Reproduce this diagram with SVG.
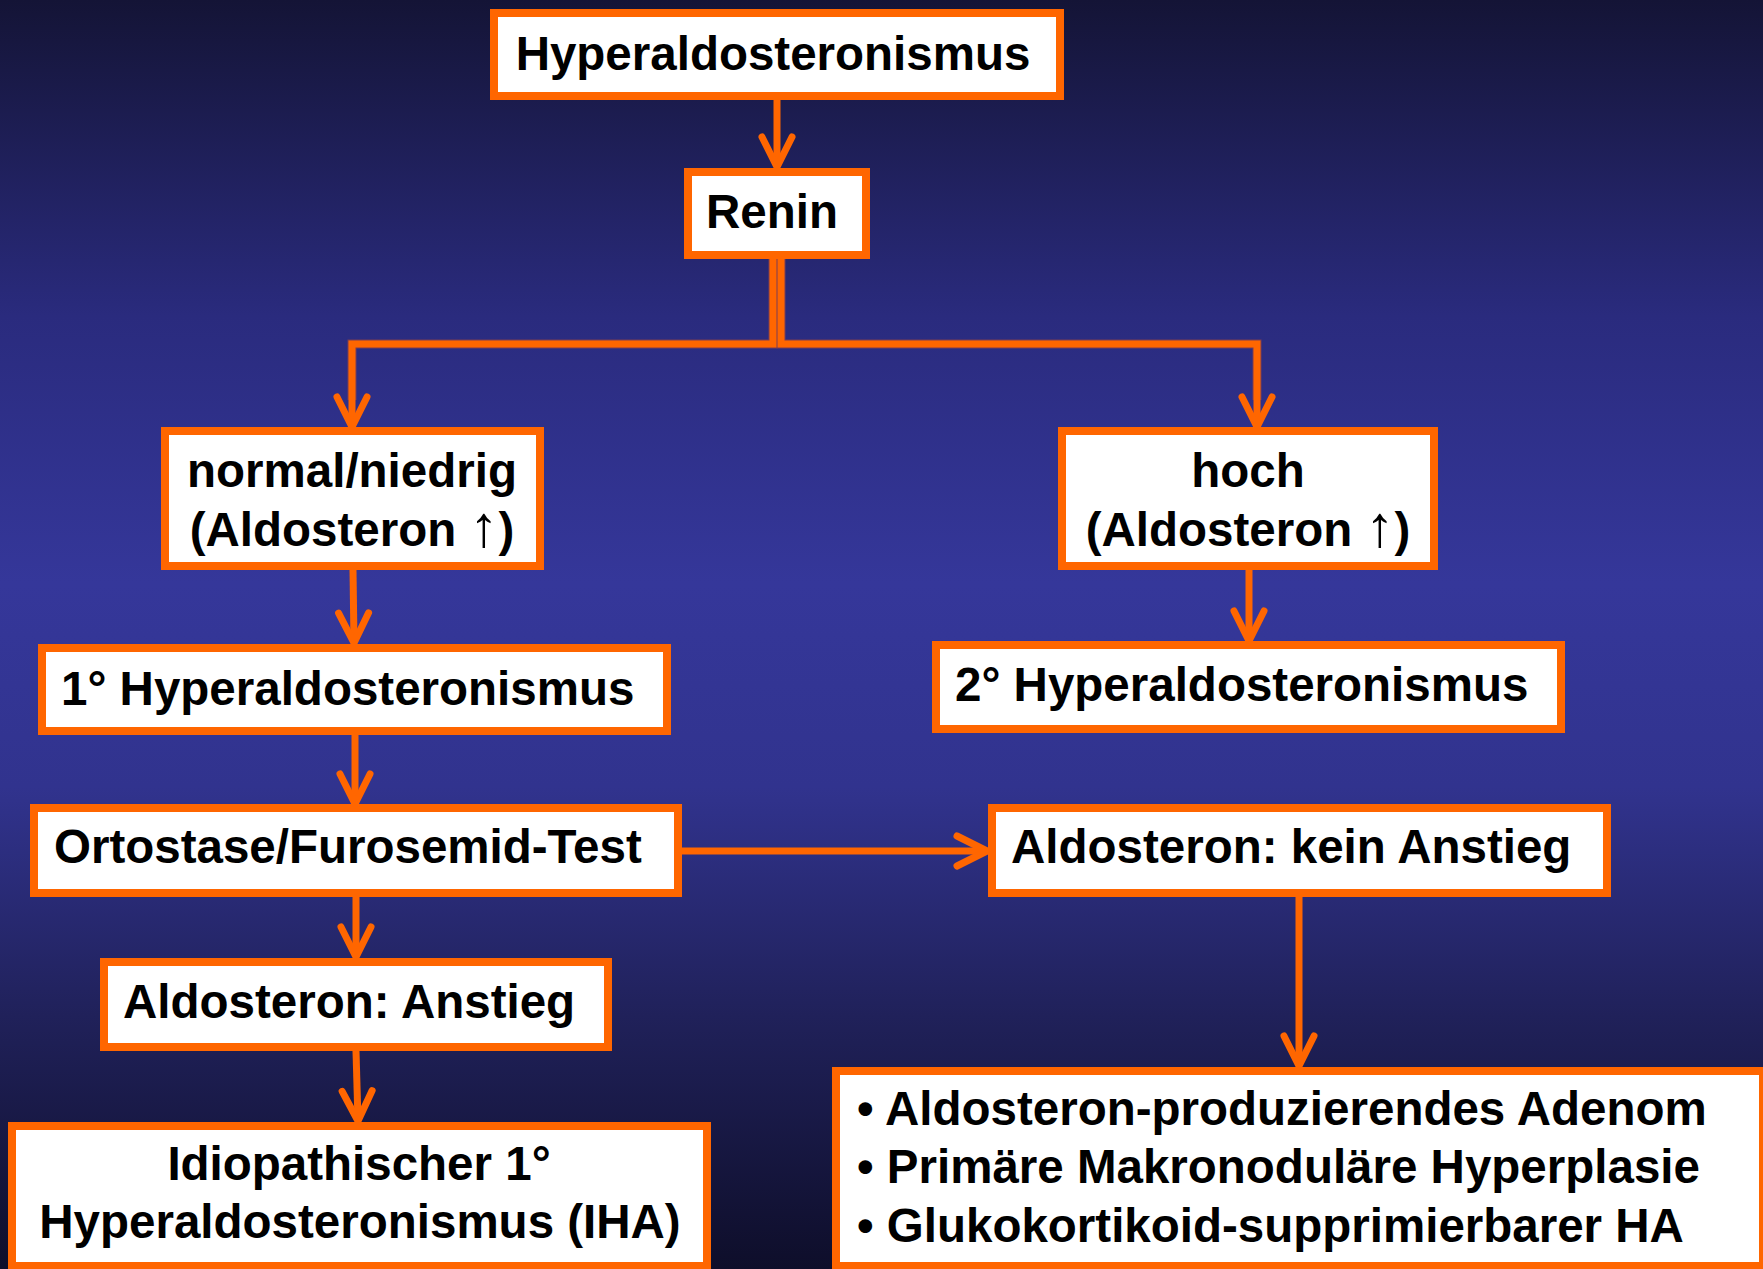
<svg xmlns="http://www.w3.org/2000/svg" width="1763" height="1269" viewBox="0 0 1763 1269">
  <defs>
    <linearGradient id="bg" x1="0" y1="0" x2="0" y2="1">
      <stop offset="0" stop-color="#141436"/>
      <stop offset="0.25" stop-color="#2a2b7e"/>
      <stop offset="0.46" stop-color="#35379a"/>
      <stop offset="0.62" stop-color="#31338e"/>
      <stop offset="0.8" stop-color="#20215a"/>
      <stop offset="1" stop-color="#0e0e2a"/>
    </linearGradient>
    <marker id="arrow" markerUnits="userSpaceOnUse" orient="auto" refX="0" refY="0" markerWidth="40" markerHeight="40" overflow="visible">
      <path d="M-30,-15 L0,0 L-30,15" fill="none" stroke="#ff6600" stroke-width="7" stroke-linecap="round" stroke-linejoin="round"/>
    </marker>
    <style>
      .box { fill: #ffffff; stroke: #ff6600; stroke-width: 8; }
      .lbl { font-family: "Liberation Sans", Arial, Helvetica, sans-serif; font-weight: bold; font-size: 47.5px; fill: #000000; }
      .mid { text-anchor: middle; }
      .up { font-family: "Liberation Serif", "Times New Roman", serif; font-weight: normal; font-size: 58px; }
      .edge { fill: none; stroke: #ff6600; stroke-width: 7; marker-end: url(#arrow); }
      .edge-under { fill: none; stroke: #7a3c55; stroke-width: 9; }
      .elbow { fill: none; stroke: #ff6600; stroke-width: 7; }
    </style>
  </defs>

  <rect x="0" y="0" width="1763" height="1269" fill="url(#bg)"/>

  <!-- connectors -->
  <g id="connectors">
    <path class="edge" d="M777,100 V167"/>
    <!-- Renin splits into two branches -->
    <path class="edge-under" d="M773,259 V344 H352 V400"/>
    <path class="edge-under" d="M781,259 V344 H1257 V400"/>
    <path class="elbow edge" d="M773,259 V344 H352 V427"/>
    <path class="elbow edge" d="M781,259 V344 H1257 V427"/>
    <path class="edge" d="M353,570 L354,643"/>
    <path class="edge" d="M1249,570 V641"/>
    <path class="edge" d="M355,735 V804"/>
    <path class="edge" d="M356,897 V957"/>
    <path class="edge" d="M356,1051 L358,1121"/>
    <path class="edge" d="M682,851 H987"/>
    <path class="edge" d="M1299,897 V1066"/>
  </g>

  <g id="n-hyperaldosteronismus">
    <rect class="box" x="494" y="13" width="566" height="83"/>
    <text class="lbl mid" x="773" y="70">Hyperaldosteronismus</text>
  </g>

  <g id="n-renin">
    <rect class="box" x="688" y="172" width="178" height="83"/>
    <text class="lbl mid" x="772" y="228">Renin</text>
  </g>

  <g id="n-normal">
    <rect class="box" x="165" y="431" width="375" height="135"/>
    <text class="lbl mid" x="352" y="487">normal/niedrig</text>
    <text class="lbl mid" x="352" y="546">(Aldosteron <tspan class="up">↑</tspan>)</text>
  </g>

  <g id="n-hoch">
    <rect class="box" x="1062" y="431" width="372" height="135"/>
    <text class="lbl mid" x="1248" y="487">hoch</text>
    <text class="lbl mid" x="1248" y="546">(Aldosteron <tspan class="up">↑</tspan>)</text>
  </g>

  <g id="n-primary">
    <rect class="box" x="42" y="648" width="625" height="83"/>
    <text class="lbl" x="61" y="705">1° Hyperaldosteronismus</text>
  </g>

  <g id="n-secondary">
    <rect class="box" x="936" y="645" width="625" height="84"/>
    <text class="lbl" x="955" y="701">2° Hyperaldosteronismus</text>
  </g>

  <g id="n-test">
    <rect class="box" x="34" y="808" width="644" height="85"/>
    <text class="lbl" x="54" y="863">Ortostase/Furosemid-Test</text>
  </g>

  <g id="n-kein-anstieg">
    <rect class="box" x="992" y="808" width="615" height="85"/>
    <text class="lbl" x="1011" y="863">Aldosteron: kein Anstieg</text>
  </g>

  <g id="n-anstieg">
    <rect class="box" x="104" y="962" width="504" height="85"/>
    <text class="lbl" x="123" y="1018">Aldosteron: Anstieg</text>
  </g>

  <g id="n-iha">
    <rect class="box" x="12" y="1126" width="695" height="140"/>
    <text class="lbl mid" x="359" y="1180">Idiopathischer 1°</text>
    <text class="lbl mid" x="360" y="1238">Hyperaldosteronismus (IHA)</text>
  </g>

  <g id="n-causes">
    <rect class="box" x="836" y="1071" width="927" height="195"/>
    <text class="lbl" x="857" y="1125">• Aldosteron-produzierendes Adenom</text>
    <text class="lbl" x="857" y="1183">• Primäre Makronoduläre Hyperplasie</text>
    <text class="lbl" x="857" y="1242">• Glukokortikoid-supprimierbarer HA</text>
  </g>
</svg>
